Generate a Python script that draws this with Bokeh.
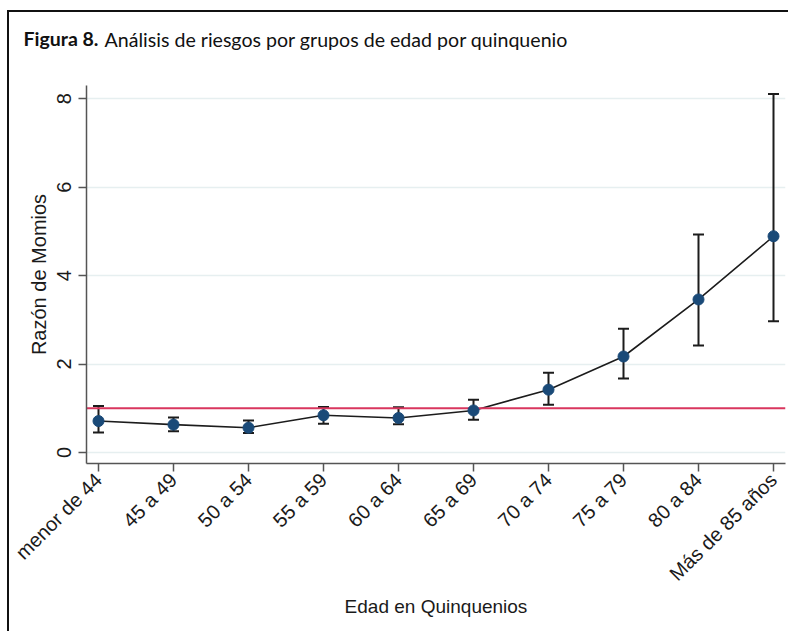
import math

from bokeh.embed import file_html
from bokeh.models import ColumnDataSource, FixedTicker, Label, Range1d, Span, TeeHead, Whisker
from bokeh.plotting import figure
from bokeh.resources import INLINE

# Odds ratios by five-year age group, with 95% confidence limits
grupos = ["menor de 44", "45 a 49", "50 a 54", "55 a 59", "60 a 64",
          "65 a 69", "70 a 74", "75 a 79", "80 a 84", "Más de 85 años"]
razon = [0.71, 0.63, 0.56, 0.84, 0.78, 0.95, 1.42, 2.17, 3.46, 4.89]
limite_inf = [0.45, 0.48, 0.44, 0.65, 0.64, 0.74, 1.08, 1.67, 2.42, 2.97]
limite_sup = [1.05, 0.79, 0.72, 1.03, 1.02, 1.19, 1.80, 2.80, 4.93, 8.11]
referencia = 1.0
y_ticks = [0, 2, 4, 6, 8]

x = list(range(len(grupos)))
src = ColumnDataSource(dict(x=x, y=razon, lo=limite_inf, hi=limite_sup))

AXIS_FONT = "Liberation Sans"
AXIS_GREY = "#555555"

W, H = 781, 621
LEFT, RIGHT, TOP, BOTTOM = 77, 5, 73, 170

p = figure(
    width=W, height=H,
    x_range=Range1d(-0.16, len(grupos) - 1 + 0.16),
    y_range=Range1d(-0.25, 8.3),
    output_backend="svg", toolbar_location=None, tools="",
    min_border_left=LEFT, min_border_right=RIGHT, min_border_top=TOP, min_border_bottom=BOTTOM,
    background_fill_color="white", border_fill_color="white",
)
p.outline_line_color = None
p.margin = (10, 0, 0, 7)
p.styles = {"border-left": "2px solid #111111", "border-top": "2px solid #111111"}

# grid: light horizontal lines only
p.xgrid.grid_line_color = None
p.ygrid.grid_line_color = "#e6eff0"
p.ygrid.grid_line_width = 1.5

# x axis with the age-group names
p.xaxis.ticker = FixedTicker(ticks=x)
p.xaxis.major_label_overrides = {i: g for i, g in enumerate(grupos)}
p.xaxis.major_label_orientation = math.pi / 4
p.xaxis.axis_label = "Edad en Quinquenios"
p.xaxis.axis_label_standoff = 0

p.yaxis.ticker = FixedTicker(ticks=y_ticks)
p.yaxis.major_label_orientation = "vertical"
p.yaxis.axis_label = "Razón de Momios"
p.yaxis.axis_label_standoff = 5

for ax in (p.xaxis[0], p.yaxis[0]):
    ax.axis_line_color = AXIS_GREY
    ax.axis_line_width = 1.5
    ax.major_tick_line_color = AXIS_GREY
    ax.major_tick_line_width = 1.5
    ax.major_tick_out = 8
    ax.major_tick_in = 0
    ax.minor_tick_line_color = None
    ax.major_label_text_font = AXIS_FONT
    ax.major_label_text_font_size = "20px"
    ax.major_label_text_color = "#1a1a1a"
    ax.axis_label_text_font = AXIS_FONT
    ax.axis_label_text_font_style = "normal"
    ax.axis_label_text_color = "#1a1a1a"
p.xaxis.major_label_standoff = 5
p.yaxis.major_label_standoff = 7
p.xaxis.axis_label_text_font_size = "19px"
p.yaxis.axis_label_text_font_size = "20px"

# confidence intervals
ci = Whisker(source=src, base="x", lower="lo", upper="hi",
             line_color="#1c1c1c", line_width=2,
             upper_head=TeeHead(size=11, line_color="#1c1c1c", line_width=2),
             lower_head=TeeHead(size=11, line_color="#1c1c1c", line_width=2))
p.add_layout(ci)

p.line("x", "y", source=src, line_color="#1c1c1c", line_width=1.6)

# reference line at OR = 1
p.add_layout(Span(location=referencia, dimension="width",
                  line_color="#d9365e", line_width=2.2, level="glyph"))

p.scatter("x", "y", source=src, size=11, fill_color="#1a4a78", line_color="#1a4a78",
          level="overlay")

# heading in the top border: bold figure number followed by the caption
p.add_layout(Label(x=-63, y=47, x_units="screen", y_units="screen",
                   text="Figura 8.", text_font="Lato", text_font_style="bold",
                   text_font_size="19.5px", text_baseline="middle", text_color="#111111"),
             "above")
p.add_layout(Label(x=18, y=23, x_units="screen", y_units="screen",
                   text="Análisis de riesgos por grupos de edad por quinquenio",
                   text_font="Lato", text_font_size="19.6px",
                   text_baseline="middle", text_color="#111111"),
             "above")

open("out.html", "w").write(file_html(p, INLINE))
